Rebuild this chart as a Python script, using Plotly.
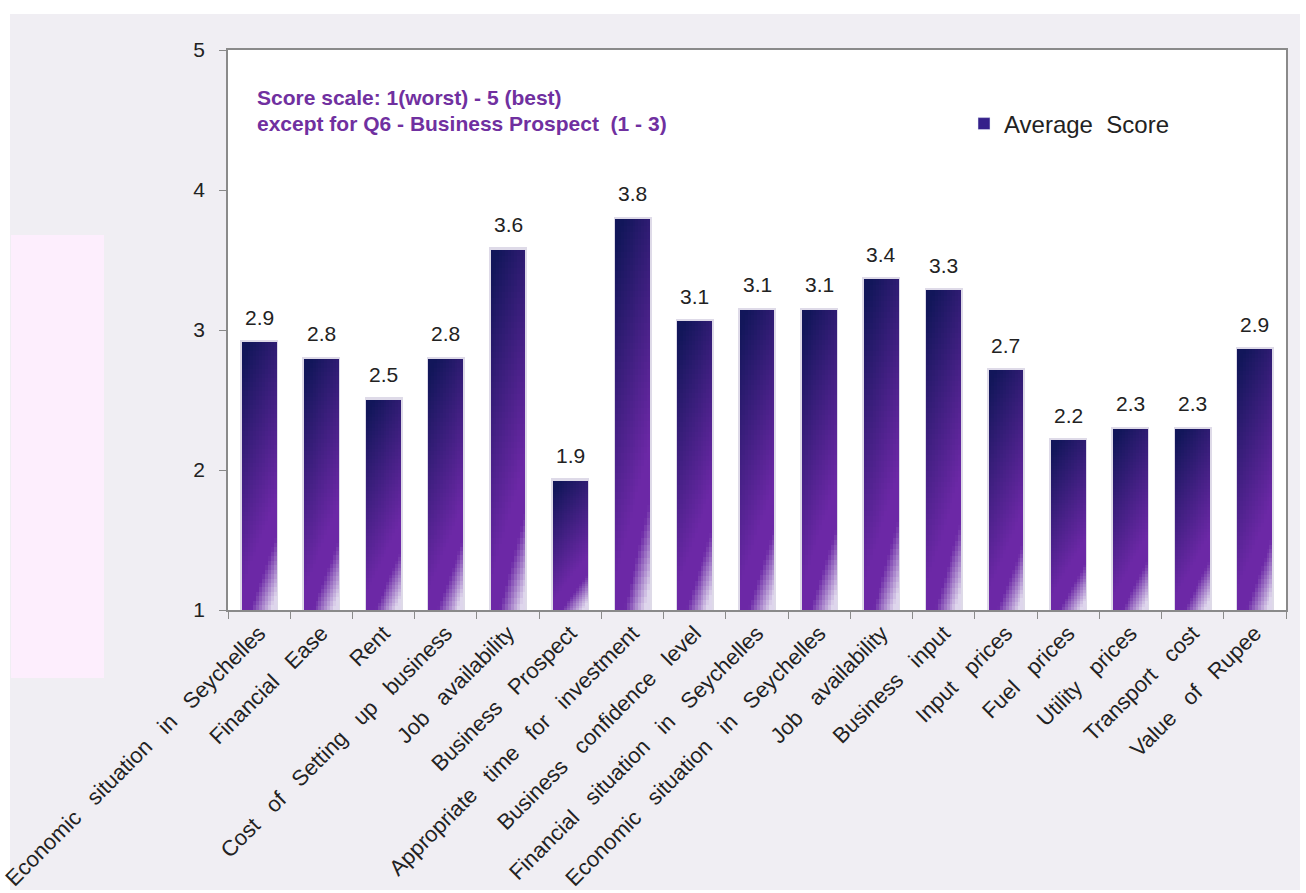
import plotly.graph_objects as go

categories = [
    "Economic situation in Seychelles", "Financial Ease", "Rent",
    "Cost of Setting up business", "Job availability", "Business Prospect",
    "Appropriate time for investment", "Business confidence level",
    "Financial situation in Seychelles", "Economic situation in Seychelles",
    "Job availability", "Business input", "Input prices", "Fuel prices",
    "Utility prices", "Transport cost", "Value of Rupee",
]
values = [2.91, 2.79, 2.50, 2.79, 3.57, 1.92, 3.79, 3.06, 3.14, 3.14,
          3.36, 3.28, 2.71, 2.21, 2.29, 2.29, 2.86]
y_ticks = [1, 2, 3, 4, 5]
series_name = "Average\u00a0\u00a0Score"
note_lines = ["Score scale: 1(worst) - 5 (best)",
              "except for Q6 - Business Prospect\u00a0\u00a0(1 - 3)"]

W_FIG, H_FIG = 1306, 893
L, R, T, B = 228, 20, 50, 283
PW, PH = W_FIG - L - R, H_FIG - T - B
FONT = "Liberation Sans, Arial, sans-serif"
BASE = y_ticks[0]


def px_x(p):
    return (p - L) / PW


def px_y(p):
    return (H_FIG - B - p) / PH


def lerp(a, b, t):
    t = max(0.0, min(1.0, t))
    return tuple(a[i] + (b[i] - a[i]) * t for i in range(3))


navy = (18, 22, 90)
purple = (108, 40, 166)
light = (222, 214, 236)


def grad(u, v):
    t1 = (v + 0.35 * u - 0.08) / 0.85
    c = lerp(navy, purple, t1)
    s = v + 0.38 * u
    c = lerp(c, light, (s - 1.1) / 0.22)
    return "rgb(%d,%d,%d)" % tuple(int(round(k)) for k in c)


BW = 0.56
NC, NR = 12, 60
xs, hs, bs, offs, wids, cols = [], [], [], [], [], []
for i, val in enumerate(values):
    seg = (val - BASE) / NR
    for r in range(NR):
        for c in range(NC):
            xs.append(i)
            hs.append(seg * 1.06)
            bs.append(BASE + (val - BASE) * (1 - (r + 1) / NR))
            offs.append(-BW / 2 + c * BW / NC)
            wids.append(BW / NC * 1.1 if c < NC - 1 else BW / NC)
            cols.append(grad((c + 0.5) / NC, (r + 0.5) / NR))

fig = go.Figure()

# soft outline behind bars
fig.add_trace(go.Bar(
    x=list(range(len(values))), y=[v - BASE + 0.02 for v in values], base=BASE,
    width=BW + 0.05, marker=dict(color="#dedae8", line=dict(width=0)),
    showlegend=False, hoverinfo="skip"))

fig.add_trace(go.Bar(
    x=xs, y=hs, base=bs, offset=offs, width=wids,
    marker=dict(color=cols, line=dict(width=0)),
    showlegend=False, hoverinfo="skip"))

# legend entry
fig.add_trace(go.Bar(x=[None], y=[None], name=series_name,
                     marker=dict(color="#35208a"), showlegend=True))

annotations = []
for i, val in enumerate(values):
    annotations.append(dict(
        x=i, y=val, xref="x", yref="y", text=f"{val:.1f}", showarrow=False,
        yanchor="bottom", yshift=12, font=dict(size=21, color="#222", family=FONT)))
for k, line in enumerate(note_lines):
    annotations.append(dict(
        x=px_x(255), y=px_y(97 + 27 * k), xref="paper", yref="paper",
        text="<b>" + line + "</b>", showarrow=False, xanchor="left", yanchor="middle",
        font=dict(size=21, color="#7030a0", family=FONT)))

sep = "\u00a0\u00a0 "
ticktext = [sep.join(c.split(" ")) for c in categories]

shapes = [
    dict(type="rect", xref="paper", yref="paper", x0=px_x(10), x1=px_x(1300),
         y0=px_y(890), y1=px_y(14), fillcolor="#f0eef3", line=dict(width=0), layer="below"),
    dict(type="rect", xref="paper", yref="paper", x0=px_x(11), x1=px_x(104),
         y0=px_y(678), y1=px_y(235), fillcolor="#fdeefd", line=dict(width=0), layer="below"),
    dict(type="rect", xref="paper", yref="paper", x0=0, x1=1, y0=0, y1=1,
         fillcolor="white", line=dict(width=0), layer="below"),
]

fig.update_layout(
    width=W_FIG, height=H_FIG,
    margin=dict(l=L, r=R, t=T, b=B, autoexpand=False),
    paper_bgcolor="white", plot_bgcolor="white",
    barmode="overlay", bargap=0,
    font=dict(family=FONT, size=20, color="#222"),
    shapes=shapes, annotations=annotations,
    legend=dict(x=px_x(964), y=px_y(124), xanchor="left", yanchor="middle",
                bgcolor="rgba(0,0,0,0)", font=dict(size=24, color="#222", family=FONT),
                itemwidth=30),
    xaxis=dict(
        range=[-0.5, len(values) - 0.5], tickmode="array",
        tickvals=list(range(len(values))), ticktext=ticktext, tickangle=-45,
        ticks="", showline=True, linecolor="#8a8a8a", linewidth=1.5, mirror=True,
        showgrid=False, zeroline=False, automargin=False,
        tickfont=dict(size=22, color="#222", family=FONT),
        minor=dict(tickmode="array", tickvals=[i - 0.5 for i in range(len(values) + 1)],
                   ticks="outside", ticklen=7, tickcolor="#8a8a8a", tickwidth=1.2),
    ),
    yaxis=dict(
        range=[y_ticks[0], y_ticks[-1]], tickmode="array", tickvals=y_ticks,
        ticks="outside", ticklen=7, tickcolor="#8a8a8a", showline=True,
        linecolor="#8a8a8a", linewidth=1.5, mirror=True, showgrid=False,
        zeroline=False, automargin=False, ticklabelstandoff=10,
        tickfont=dict(size=21, color="#222", family=FONT),
    ),
)

fig.write_html("out.html")
